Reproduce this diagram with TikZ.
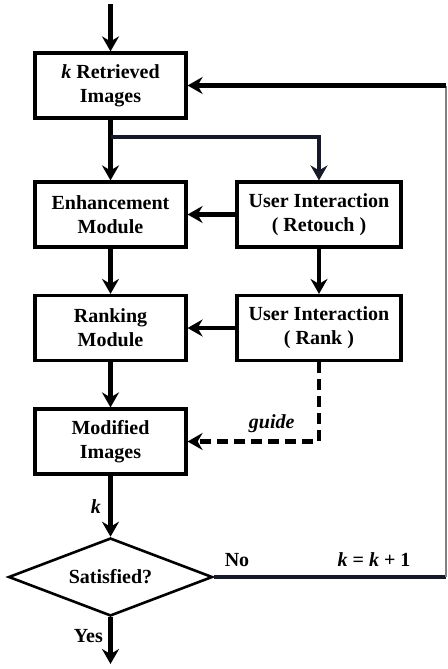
\documentclass[tikz,border=0pt]{standalone}
\usepackage{fontspec}
\setmainfont{Liberation Serif}
\usepackage{tikz}
\usetikzlibrary{arrows.meta,shapes.geometric}

\definecolor{navy}{RGB}{22,26,40}

\tikzset{
    block/.style={draw, line width=3.2pt, minimum width=151pt, minimum height=65pt,
        align=center, font=\fontsize{20}{24}\selectfont\bfseries, inner sep=0pt},
    uiblock/.style={block, minimum width=164pt},
    decide/.style={draw, diamond, line width=2.6pt, minimum width=204pt, minimum height=78pt,
        aspect=2.6, inner sep=0pt, font=\fontsize{20}{24}\selectfont\bfseries},
    flow/.style={line width=4.6pt, -{Stealth[length=15pt,width=17pt,inset=5pt]}},
    lbl/.style={font=\fontsize{20}{24}\selectfont\bfseries}
}

\begin{document}
\begin{tikzpicture}[x=1pt,y=-1pt]
                \useasboundingbox (0,0) rectangle (447,669);
                \node[block] (retr) at (110.5,85.5) {\textit{k} Retrieved\\Images};
                \node[block] (enh) at (110.5,214.5) {Enhancement\\Module};
                \node[uiblock] (uiret) at (319,214.5) {User Interaction\\( Retouch )};
                \node[block] (rank) at (110.5,328) {Ranking\\Module};
                \node[uiblock] (uirank) at (319,328) {User Interaction\\( Rank )};
                \node[block] (modi) at (110.5,441.5) {Modified\\Images};
                \node[decide] (sat) at (110.5,577) {Satisfied?};
                \coordinate (start) at (110.5,4);
                \coordinate (stop) at (110.5,664);
                \coordinate (split) at (110.5,137);
                \coordinate (corner) at (446,577);
                % main flow
                \draw[flow] (start) -- (retr);
                \draw[flow] (retr) -- (enh);
                \draw[flow, navy, line width=4pt] (split) -| (uiret);
                \draw[flow] (enh) -- (rank);
                \draw[flow] (uiret) -- (enh);
                \draw[flow] (uiret) -- (uirank);
                \draw[flow] (uirank) -- (rank);
                \draw[flow] (rank) -- (modi);
                \draw[flow, dashed, dash pattern=on 11pt off 6pt] (uirank.south) |- (modi.east)
                    node[pos=0.68, above=3pt, lbl] {\textit{guide}};
                \draw[flow] (modi) -- node[left=4pt, lbl] {\textit{k}} (sat);
                \draw[flow] (sat) -- node[pos=0.4, left=2pt, lbl] {Yes} (stop);
                % feedback loop
                \draw[navy, line width=4pt] (sat.east) -- (corner)
                    node[pos=0.1, above=5pt, lbl, black] {No}
                    node[pos=0.69, above=5pt, lbl, black] {\textit{k} = \textit{k} + 1};
                \draw[gray, line width=1.4pt] (corner) -- (446,85.5);
                \draw[flow] (446,85.5) -- (retr.east);
            \end{tikzpicture}
\end{document}
